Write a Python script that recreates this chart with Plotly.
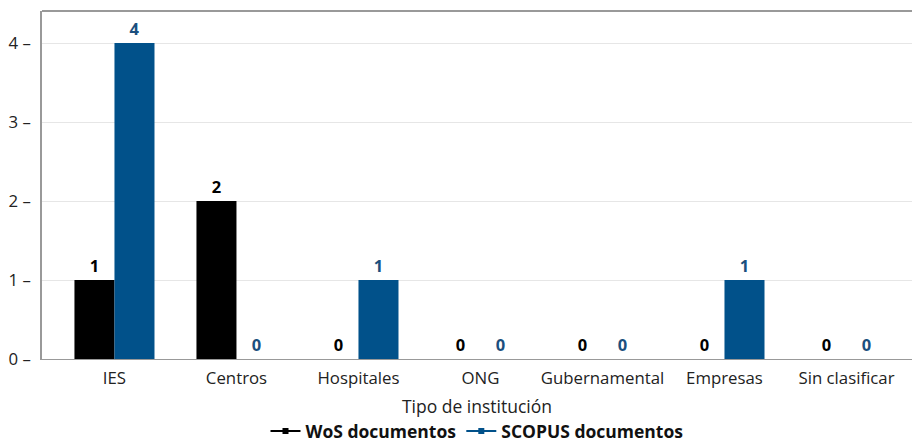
import plotly.graph_objects as go

categories = ["IES", "Centros", "Hospitales", "ONG", "Gubernamental", "Empresas", "Sin clasificar"]
wos = [1, 2, 0, 0, 0, 0, 0]
scopus = [4, 0, 1, 0, 0, 1, 0]
y_ticks = [0, 1, 2, 3, 4]

BLACK = "#000000"
BLUE = "#01518A"
FONT = "Open Sans"

xs = list(range(len(categories)))

fig = go.Figure()
fig.add_trace(go.Bar(
    x=xs, y=wos, name="WoS documentos", showlegend=False,
    marker=dict(color=BLACK, line=dict(width=0)),
    text=[str(v) for v in wos], textposition="outside", cliponaxis=False,
    textfont=dict(family=FONT, size=16.5, color=BLACK, weight="bold"),
))
fig.add_trace(go.Bar(
    x=xs, y=scopus, name="SCOPUS documentos", showlegend=False,
    marker=dict(color=BLUE, line=dict(width=0)),
    text=[str(v) for v in scopus], textposition="outside", cliponaxis=False,
    textfont=dict(family=FONT, size=16.5, color="#1B4F7E", weight="bold"),
))
for name, col in [("WoS documentos", BLACK), ("SCOPUS documentos", BLUE)]:
    fig.add_trace(go.Scatter(
        x=[None], y=[None], mode="lines+markers", name=name,
        line=dict(color=col, width=2), marker=dict(symbol="square", size=6, color=col),
    ))

fig.update_layout(
    width=912, height=442,
    margin=dict(l=42, r=0, t=11, b=83, autoexpand=False),
    paper_bgcolor="white", plot_bgcolor="white",
    barmode="group", bargap=0.344, bargroupgap=0,
    font=dict(family=FONT, size=16, color="#222222"),
    showlegend=True,
    legend=dict(orientation="h", x=0.5, xanchor="center", y=-0.207, yanchor="middle",
                font=dict(family=FONT, size=17.5, color="#111111", weight="bold"),
                itemwidth=30, tracegroupgap=0),
    xaxis=dict(
        range=[-0.594, 6.537], tickvals=xs, ticktext=categories,
        showgrid=False, ticks="", showline=True, linecolor="#999999", linewidth=1,
        ticklabelstandoff=4,
        tickfont=dict(family=FONT, size=16.8, color="#222222"),
        title=dict(text="Tipo de institución", standoff=12,
                   font=dict(family=FONT, size=17.5, color="#222222")),
        zeroline=False, automargin=False,
    ),
    yaxis=dict(
        range=[0, 4.405], tickvals=y_ticks, ticktext=[f"{v} –" for v in y_ticks],
        showgrid=True, gridcolor="#e6e6e6", gridwidth=1,
        ticks="", ticklabelstandoff=6,
        showline=True, linecolor="#999999", linewidth=1.5,
        tickfont=dict(family=FONT, size=16.8, color="#222222"),
        zeroline=False, automargin=False,
    ),
    shapes=[dict(type="line", xref="paper", yref="paper", x0=0, x1=1, y0=1, y1=1,
                 line=dict(color="#999999", width=2))],
)

fig.write_html("out.html", config={"displayModeBar": False},
               post_script="document.body.style.margin='0';")
